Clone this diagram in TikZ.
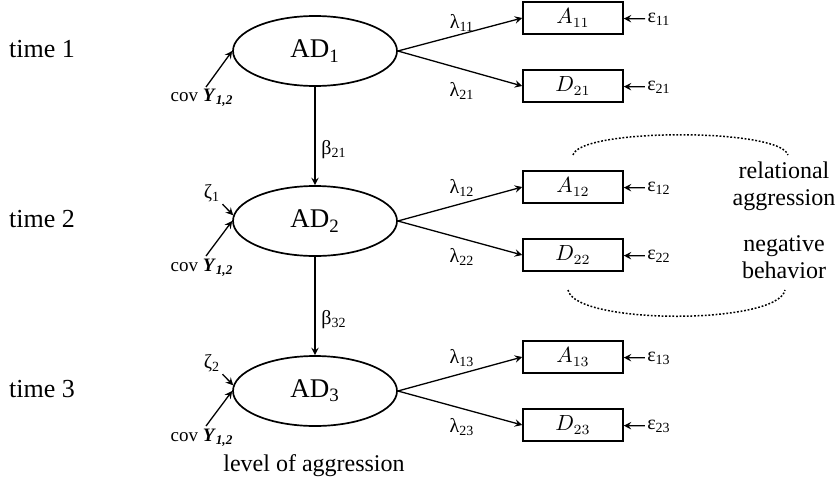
\documentclass[tikz,border=0pt]{standalone}
\usepackage{fontspec}
\setmainfont{Liberation Serif}
\usetikzlibrary{shapes.geometric}

\begin{document}
\begin{tikzpicture}[x=0.5pt,y=-0.5pt,>=stealth,
    latent/.style={ellipse,draw,line width=0.85pt,minimum width=82pt,minimum height=35pt,inner sep=0pt,font=\fontsize{13.5}{15}\selectfont},
    indic/.style={rectangle,draw,line width=0.75pt,minimum width=50pt,minimum height=16pt,inner sep=0pt,font=\fontsize{10.5}{12}\selectfont},
    coef/.style={inner sep=1pt,font=\fontsize{10}{12}\selectfont},
    covlab/.style={inner sep=1pt,font=\fontsize{9.5}{11}\selectfont},
    timelab/.style={font=\fontsize{13}{15}\selectfont},
    sidelab/.style={align=center,font=\fontsize{12}{13.5}\selectfont},
    path/.style={->,line width=0.65pt},
    group/.style={line width=0.75pt,dash pattern=on 0.9pt off 0.9pt}]
                \useasboundingbox (0,0) rectangle (838,482);

                % time labels
                \node[timelab] (t1) at (42,49) {time 1};
                \node[timelab] (t2) at (42,219) {time 2};
                \node[timelab] (t3) at (42,389) {time 3};

                % latent factors
                \node[latent] (ad1) at (315,51) {AD\textsubscript{1}};
                \node[latent] (ad2) at (315,221) {AD\textsubscript{2}};
                \node[latent] (ad3) at (315,391) {AD\textsubscript{3}};

                \draw[path] (ad1) -- (ad2);
                \draw[path] (ad2) -- (ad3);
                \node[coef] (b21) at (334,150) {β\textsubscript{21}};
                \node[coef] (b32) at (334,320) {β\textsubscript{32}};

                % indicators, time 1
                \node[indic] (a11) at (573,18) {$A_{11}$};
                \node[indic] (d21) at (573,86) {$D_{21}$};
                \draw[path] (ad1.east) -- (a11.west);
                \draw[path] (ad1.east) -- (d21.west);
                \node[coef] (l11) at (462,23) {λ\textsubscript{11}};
                \node[coef] (l21) at (462,91) {λ\textsubscript{21}};
                \node[coef] (e11) at (659,19) {ε\textsubscript{11}};
                \node[coef] (e21) at (659,87) {ε\textsubscript{21}};
                \draw[path] (e11) -- (a11);
                \draw[path] (e21) -- (d21);

                % indicators, time 2
                \node[indic] (a12) at (573,187) {$A_{12}$};
                \node[indic] (d22) at (573,255) {$D_{22}$};
                \draw[path] (ad2.east) -- (a12.west);
                \draw[path] (ad2.east) -- (d22.west);
                \node[coef] (l12) at (462,188) {λ\textsubscript{12}};
                \node[coef] (l22) at (462,257) {λ\textsubscript{22}};
                \node[coef] (e12) at (659,188) {ε\textsubscript{12}};
                \node[coef] (e22) at (659,256) {ε\textsubscript{22}};
                \draw[path] (e12) -- (a12);
                \draw[path] (e22) -- (d22);

                % indicators, time 3
                \node[indic] (a13) at (573,357) {$A_{13}$};
                \node[indic] (d23) at (573,425) {$D_{23}$};
                \draw[path] (ad3.east) -- (a13.west);
                \draw[path] (ad3.east) -- (d23.west);
                \node[coef] (l13) at (462,358) {λ\textsubscript{13}};
                \node[coef] (l23) at (462,427) {λ\textsubscript{23}};
                \node[coef] (e13) at (659,358) {ε\textsubscript{13}};
                \node[coef] (e23) at (659,426) {ε\textsubscript{23}};
                \draw[path] (e13) -- (a13);
                \draw[path] (e23) -- (d23);

                % covariates and disturbances
                \node[covlab] (c1) at (202,98) {cov \textbf{\textit{Y}}\textsubscript{\textbf{\textit{1,2}}}};
                \node[covlab] (c2) at (202,268) {cov \textbf{\textit{Y}}\textsubscript{\textbf{\textit{1,2}}}};
                \node[covlab] (c3) at (202,438) {cov \textbf{\textit{Y}}\textsubscript{\textbf{\textit{1,2}}}};
                \coordinate (c1t) at (206,87);
                \coordinate (c2t) at (206,256);
                \coordinate (c3t) at (206,426);
                \draw[path] (c1t) -- (ad1.west);
                \draw[path] (c2t) -- (ad2.west);
                \draw[path] (c3t) -- (ad3.west);

                \node[coef] (z1) at (212,193) {ζ\textsubscript{1}};
                \node[coef] (z2) at (212,363) {ζ\textsubscript{2}};
                \draw[path] (z1.south east) -- (ad2.176);
                \draw[path] (z2.south east) -- (ad3.176);

                % grouping
                \node[sidelab] (rel) at (784,186) {relational\\aggression};
                \node[sidelab] (neg) at (784,257) {negative\\behavior};
                \draw[group] (573,155) .. controls (580,128) and (780,128) .. (788,155);
                \draw[group] (568,290) .. controls (575,325) and (778,325) .. (785,290);

                \node[sidelab] (lev) at (314,466) {level of aggression};
            \end{tikzpicture}
\end{document}
